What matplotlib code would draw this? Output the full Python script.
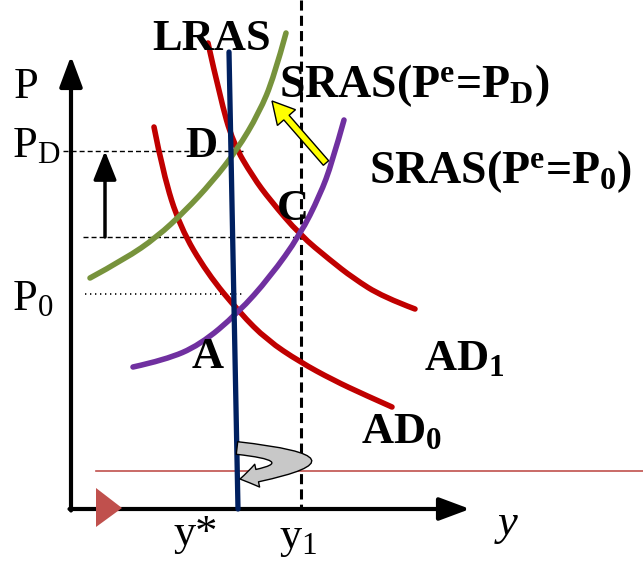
import matplotlib
matplotlib.use('Agg')
import matplotlib.pyplot as plt
from matplotlib.path import Path
from matplotlib.patches import PathPatch, Polygon, FancyArrowPatch

plt.rcParams['mathtext.fontset'] = 'custom'
plt.rcParams['mathtext.rm'] = 'Liberation Serif'
plt.rcParams['mathtext.it'] = 'Liberation Serif:italic'
plt.rcParams['mathtext.bf'] = 'Liberation Serif:bold'

# curve points (pixel units, y grows downward)
ad1_x = [208, 220, 233, 253, 270, 300, 330, 353, 383, 415]
ad1_y = [43, 97, 143, 177, 200, 235, 260, 278, 297, 309]
ad0_x = [154, 163, 180, 207, 240, 267, 300, 333, 365, 392]
ad0_y = [127, 173, 227, 273, 313, 340, 362, 380, 395, 407]
sras_d_x = [90, 125, 157, 185, 212, 237, 259, 274, 286]
sras_d_y = [278, 259, 237, 211, 182, 150, 113, 77, 33]
sras_0_x = [133, 165, 200, 238, 270, 300, 320, 332, 344]
sras_0_y = [367, 360, 345, 313, 277, 235, 195, 163, 120]
lras_x = [229, 238]
lras_y = [52, 509]
y1_x = 301
p_d_y = 151
p_c_y = 237
p_0_y = 294
x_axis_y = 509
y_axis_x = 71

RED = '#c00000'
GREEN = '#77933c'
PURPLE = '#7030a0'
NAVY = '#002060'
SERIF = 'Liberation Serif'


def smooth_path(xs, ys):
    pts = list(zip(xs, ys))
    n = len(pts)
    verts = [pts[0]]
    codes = [Path.MOVETO]
    for i in range(1, n - 2):
        mid = ((pts[i][0] + pts[i + 1][0]) / 2, (pts[i][1] + pts[i + 1][1]) / 2)
        verts += [pts[i], mid]
        codes += [Path.CURVE3, Path.CURVE3]
    verts += [pts[n - 2], pts[n - 1]]
    codes += [Path.CURVE3, Path.CURVE3]
    return Path(verts, codes)


fig = plt.figure(figsize=(6.43, 5.62), dpi=100)
ax = fig.add_axes([0, 0, 1, 1])
ax.set_xlim(0, 643)
ax.set_ylim(562, 0)
ax.axis('off')

# axes with arrows
ax.annotate('', xy=(y_axis_x, 56), xytext=(y_axis_x, x_axis_y + 1.5),
            arrowprops=dict(arrowstyle='-|>,head_length=0.75,head_width=0.28',
                            lw=3, color='k', mutation_scale=25, shrinkA=0, shrinkB=0))
ax.annotate('', xy=(470, x_axis_y), xytext=(y_axis_x - 1.5, x_axis_y),
            arrowprops=dict(arrowstyle='-|>,head_length=0.75,head_width=0.28',
                            lw=3, color='k', mutation_scale=25, shrinkA=0, shrinkB=0))

# guide lines
ax.plot([y1_x, y1_x], [0, x_axis_y], color='k', lw=2.2, ls=(0, (3.3, 1.7)))
ax.plot([63, 243], [p_d_y, p_d_y], color='k', lw=1, ls=(0, (3.6, 2.2)))
ax.plot([83, y1_x], [p_c_y, p_c_y], color='k', lw=1, ls=(0, (3.6, 2.2)))
ax.plot([85, 243], [p_0_y, p_0_y], color='k', lw=1.2, ls=(0, (0.8, 2.2)))

# thin red line and red triangle
ax.plot([96, 643], [471, 471], color='#c0504d', lw=1.2)
ax.add_patch(Polygon([(96, 488), (96, 527), (122, 508)], closed=True,
                     fc='#c0504d', ec='none', zorder=5))

# curves
for xs, ys, col in [(ad1_x, ad1_y, RED), (ad0_x, ad0_y, RED),
                    (sras_d_x, sras_d_y, GREEN), (sras_0_x, sras_0_y, PURPLE)]:
    ax.add_patch(PathPatch(smooth_path(xs, ys), fill=False, ec=col, lw=4,
                           capstyle='round', zorder=3))
ax.plot(lras_x, lras_y, color=NAVY, lw=3.8, solid_capstyle='round', zorder=4)

# black up arrow
ax.annotate('', xy=(105, p_d_y), xytext=(105, p_c_y),
            arrowprops=dict(arrowstyle='-|>,head_length=0.8,head_width=0.32',
                            lw=2.5, color='k', mutation_scale=22, shrinkA=0, shrinkB=0))

# yellow arrow
ax.arrow(326, 163, -54, -62, width=7, head_width=24, head_length=22,
         length_includes_head=True, fc='#ffff00', ec='k', lw=1, zorder=6)

# gray u-turn arrow
uturn = Path([(237, 448), (345, 460), (240, 479)],
             [Path.MOVETO, Path.CURVE3, Path.CURVE3])
ax.add_patch(FancyArrowPatch(path=uturn,
                             arrowstyle='simple,head_length=0.9,head_width=1.2,tail_width=0.65',
                             mutation_scale=14, fc='#c8c8c8', ec='k', lw=1, zorder=6))

# labels
bold = dict(family=SERIF, weight='bold', fontsize=32, ha='left', va='baseline')
reg = dict(family=SERIF, fontsize=32, ha='left', va='baseline')
ax.text(152, 50, 'LRAS', **bold)
ax.text(279, 97, r'SRAS(P$^\mathbf{e}$=P$_\mathbf{D}$)', **{**bold, 'fontsize': 33})
ax.text(369, 183, r'SRAS(P$^\mathbf{e}$=P$_\mathbf{0}$)', **{**bold, 'fontsize': 33})
ax.text(185, 157, 'D', **bold)
ax.text(277, 220, 'C', **bold)
ax.text(192, 368, 'A', **bold)
ax.text(424, 370, r'AD$_\mathbf{1}$', **bold)
ax.text(361, 443, r'AD$_\mathbf{0}$', **bold)
ax.text(14, 98, 'P', **reg)
ax.text(12, 157, r'P$_\mathrm{D}$', **reg)
ax.text(12, 310, r'P$_0$', **reg)
ax.text(174, 545, 'y*', **reg)
ax.text(279, 548, r'y$_1$', **reg)
ax.text(498, 535, 'y', style='italic', **reg)

fig.savefig('out.png', dpi=100)
